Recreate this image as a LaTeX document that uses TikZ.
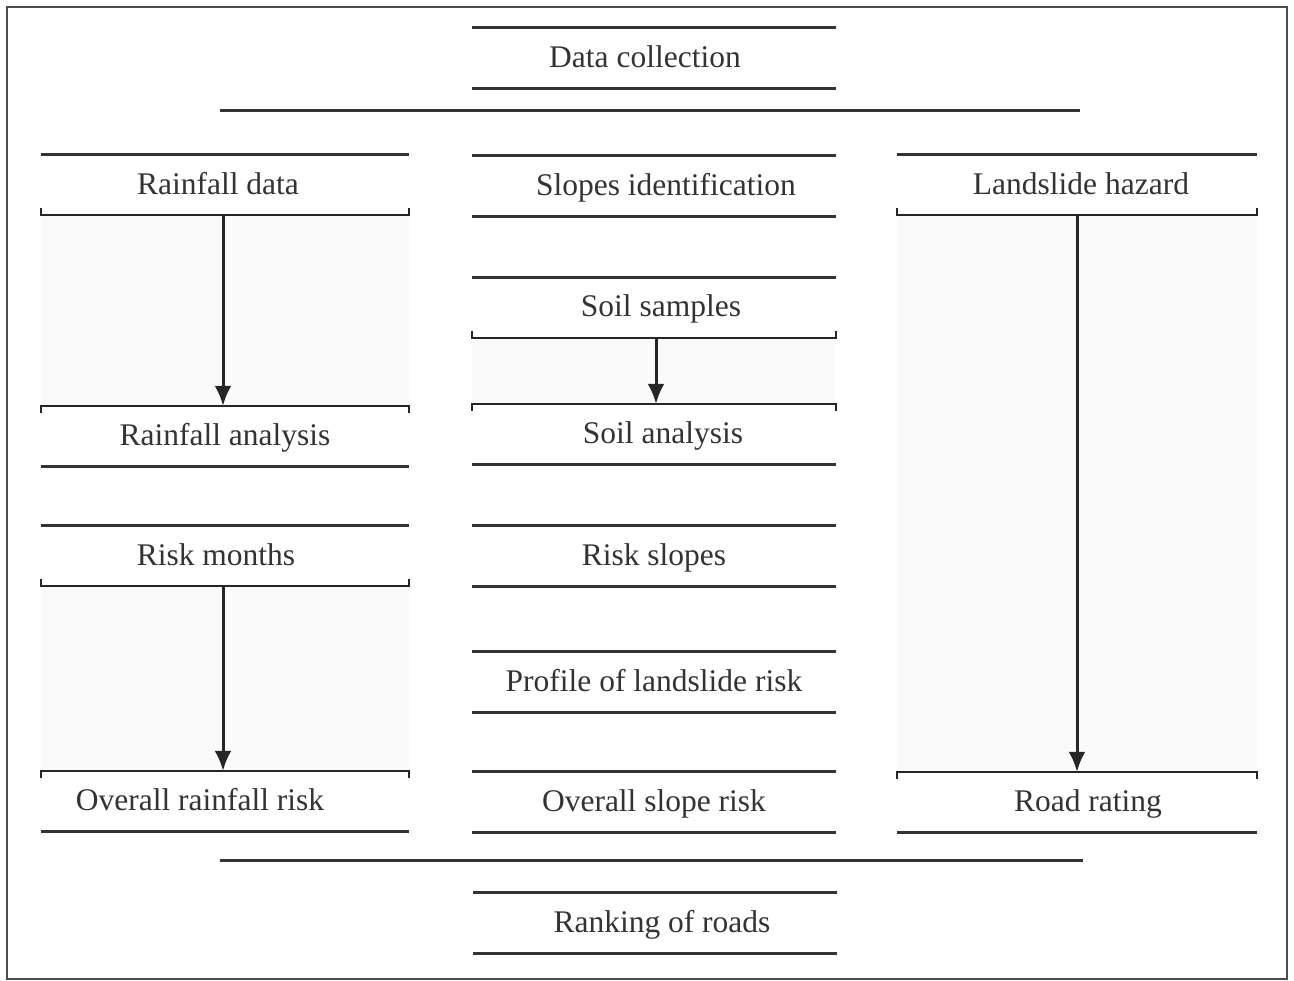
\documentclass[tikz,border=0pt]{standalone}
\usepackage{fontspec}
\setmainfont{Liberation Serif}
\usepackage{xcolor}
\usetikzlibrary{arrows.meta}

\begin{document}
\begin{tikzpicture}[x=1pt,y=-1pt]
                \tikzstyle{every node}+=[inner sep=0pt]
                \tikzstyle{stage}=[minimum height=60pt, text height=24pt, text depth=5pt, text=black!80, font=\fontsize{31.5}{31.5}\selectfont]
                \tikzstyle{lbox}=[stage, minimum width=368pt]
                \tikzstyle{mbox}=[stage, minimum width=364pt]
                \tikzstyle{rbox}=[stage, minimum width=360pt]
                \tikzstyle{bar}=[line width=3pt, black!80]
                \tikzstyle{brk}=[line width=2pt, black!85]
                \tikzstyle{flow}=[line width=3pt, black!85, -{Latex[length=20pt,width=17pt]}]
                \useasboundingbox (0,0) rectangle (1294,981);
                \draw [line width=2pt, black!70] (7,7) rectangle (1287,979);
                % middle column
                \node [mbox] (dc) at (654,58) {\hspace*{-18pt}Data collection};
                \node [mbox] (si) at (654,186) {\hspace*{24pt}Slopes identification};
                \node [mbox] (ss) at (654,307.5) {\hspace*{14pt}Soil samples};
                \node [mbox] (sa) at (654,434) {\hspace*{18pt}Soil analysis};
                \node [mbox] (rs) at (654,556) {Risk slopes};
                \node [mbox] (pr) at (654,682) {Profile of landslide risk};
                \node [mbox] (os) at (654,802) {Overall slope risk};
                \node [mbox] (rk) at (655,923) {\hspace*{14pt}Ranking of roads};
                % left column
                \node [lbox] (rd) at (225,185) {\hspace*{-14pt}Rainfall data};
                \node [lbox] (ra) at (225,436) {Rainfall analysis};
                \node [lbox] (rm) at (225,556) {\hspace*{-18pt}Risk months};
                \node [lbox] (orr) at (225,801) {\hspace*{-50pt}Overall rainfall risk};
                % right column
                \node [rbox] (lh) at (1077,185) {\hspace*{8pt}Landslide hazard};
                \node [rbox] (rrt) at (1077,802) {\hspace*{22pt}Road rating};
                % shaded gaps
                \foreach \a/\b in {rd/ra, rm/orr, ss/sa, lh/rrt}
                    \fill [black!2] (\a.south west) rectangle (\b.north east);
                % long split lines
                \coordinate (t1) at (220,111);
                \coordinate (t2) at (1080,111);
                \coordinate (b1) at (220,860);
                \coordinate (b2) at (1083,860);
                \draw [bar] (t1) -- (t2);
                \draw [bar] (b1) -- (b2);
                % plain lines
                \foreach \n in {dc, rd, rm, si, ss, rs, pr, os, lh, rk}
                    \draw [bar] (\n.north west) -- (\n.north east);
                \foreach \n in {dc, ra, orr, si, sa, rs, pr, os, rrt, rk}
                    \draw [bar] (\n.south west) -- (\n.south east);
                % brackets
                \foreach \n in {rd, rm, ss, lh}
                    \draw [brk] ([yshift=7pt]\n.south west) -- (\n.south west) -- (\n.south east) -- ([yshift=7pt]\n.south east);
                \foreach \n in {ra, orr, sa, rrt}
                    \draw [brk] ([yshift=-7pt]\n.north west) -- (\n.north west) -- (\n.north east) -- ([yshift=-7pt]\n.north east);
                % arrows
                \draw [flow] ([xshift=-2pt]rd.south) -- ([xshift=-2pt]ra.north);
                \draw [flow] ([xshift=-2pt]rm.south) -- ([xshift=-2pt]orr.north);
                \draw [flow] ([xshift=2pt]ss.south) -- ([xshift=2pt]sa.north);
                \draw [flow] (lh.south) -- (rrt.north);
\end{tikzpicture}
\end{document}
